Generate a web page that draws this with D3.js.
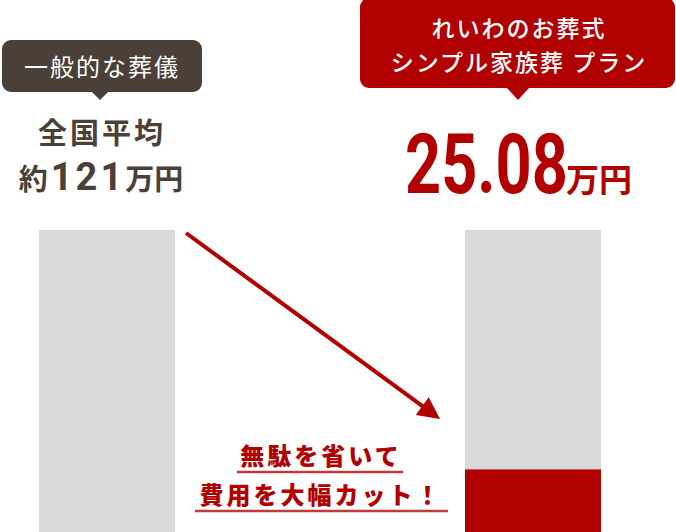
<!DOCTYPE html>
<html><head><meta charset="utf-8">
<script src="https://cdn.jsdelivr.net/npm/d3@7"></script>
<style>html,body{margin:0;padding:0;background:#fff;}svg{display:block;}</style>
</head><body>
<script>
const categories = ["一般的な葬儀", "れいわのお葬式 シンプル家族葬 プラン"];
const values = [121, 25.08];
const maxValue = 121;
const leftLabelLines = ["全国平均"];
const leftValueParts = ["約", "121", "万円"];
const rightLabelLines = ["れいわのお葬式", "シンプル家族葬 プラン"];
const rightValueParts = ["25.08", "万円"];
const calloutLines = ["無駄を省いて", "費用を大幅カット！"];

const W = 676, H = 532;
const RED = "#b10000", BROWN = "#4b4038", GRAY = "#d9d9d9";
const JP = "'Noto Sans CJK JP', 'Noto Sans', sans-serif";

const svg = d3.select("body").append("svg").attr("width", W).attr("height", H);

const x = d3.scaleBand().domain(categories).range([39, 601]).paddingInner(290/426).paddingOuter(0);
const y = d3.scaleLinear().domain([0, maxValue]).range([532, 230]);

svg.selectAll("rect.track").data(categories).join("rect")
  .attr("class", "track")
  .attr("x", d => x(d)).attr("width", x.bandwidth())
  .attr("y", y(maxValue)).attr("height", y(0) - y(maxValue))
  .attr("fill", GRAY);
svg.selectAll("rect.bar").data(categories).join("rect")
  .attr("class", "bar")
  .attr("x", d => x(d)).attr("width", x.bandwidth())
  .attr("y", (d,i) => y(values[i])).attr("height", (d,i) => y(0) - y(values[i]))
  .attr("fill", (d,i) => i === 0 ? GRAY : RED);

function bubble(x0, y0, x1, y1, r, tipX, tipY, hw) {
  const p = d3.path();
  p.moveTo(x0 + r, y0);
  p.lineTo(x1 - r, y0); p.arcTo(x1, y0, x1, y0 + r, r);
  p.lineTo(x1, y1 - r); p.arcTo(x1, y1, x1 - r, y1, r);
  p.lineTo(tipX + hw, y1); p.lineTo(tipX, tipY); p.lineTo(tipX - hw, y1);
  p.lineTo(x0 + r, y1); p.arcTo(x0, y1, x0, y1 - r, r);
  p.lineTo(x0, y0 + r); p.arcTo(x0, y0, x0 + r, y0, r);
  p.closePath();
  return p.toString();
}
svg.append("path").attr("d", bubble(2, 40, 202, 92, 9, 100, 100, 8)).attr("fill", BROWN);
svg.append("text").attr("x", 102).attr("y", 76).attr("text-anchor", "middle")
  .attr("font-family", JP).attr("font-size", 24).attr("font-weight", 400).attr("fill", "#fff")
  .attr("letter-spacing", 2)
  .text(categories[0]);

svg.append("text").attr("x", 102).attr("y", 144).attr("text-anchor", "middle")
  .attr("font-family", JP).attr("font-size", 29).attr("font-weight", 700).attr("fill", BROWN)
  .attr("letter-spacing", 3)
  .text(leftLabelLines[0]);
const lv = svg.append("text").attr("x", 101).attr("y", 190).attr("text-anchor", "middle")
  .attr("font-family", "Roboto, sans-serif").attr("font-weight", 700).attr("fill", BROWN);
lv.append("tspan").attr("font-size", 29).attr("font-family", JP).text(leftValueParts[0]);
lv.append("tspan").attr("font-size", 38).attr("dx", 3).attr("letter-spacing", 3).text(leftValueParts[1]);
lv.append("tspan").attr("font-size", 29).attr("font-family", JP).text(leftValueParts[2]);

svg.append("path").attr("d", bubble(360, -2, 675, 88, 9, 518, 100, 11)).attr("fill", RED);
rightLabelLines.forEach((t, i) => {
  svg.append("text").attr("x", 519).attr("y", 37 + i * 34).attr("text-anchor", "middle")
    .attr("font-family", JP).attr("font-size", 23).attr("font-weight", 500).attr("fill", "#fff")
    .attr("letter-spacing", 2)
    .text(t);
});
svg.append("text").attr("transform", "translate(405,193) scale(0.75,1)")
  .attr("font-family", "Roboto, 'DejaVu Sans Condensed', sans-serif").attr("font-size", 84).attr("font-weight", 700)
  .attr("fill", RED)
  .text(rightValueParts[0]);
svg.append("text").attr("x", 566).attr("y", 192)
  .attr("font-family", JP).attr("font-size", 33).attr("font-weight", 700).attr("fill", RED)
  .text(rightValueParts[1]);

const a0 = [186, 233], a1 = [440, 419];
const dx = a1[0] - a0[0], dy = a1[1] - a0[1], L = Math.hypot(dx, dy);
const ux = dx / L, uy = dy / L, hl = 22, hw = 11;
const bx = a1[0] - ux * hl, by = a1[1] - uy * hl;
svg.append("line").attr("x1", a0[0]).attr("y1", a0[1]).attr("x2", bx + ux * 2).attr("y2", by + uy * 2)
  .attr("stroke", RED).attr("stroke-width", 4);
svg.append("path").attr("d", d3.line()([a1, [bx - uy * hw, by + ux * hw], [bx + uy * hw, by - ux * hw]]))
  .attr("fill", RED);

const ulines = [[237, 403, 472], [195, 448, 511]];
calloutLines.forEach((t, i) => {
  svg.append("text").attr("x", 321).attr("y", 465 + i * 39).attr("text-anchor", "middle")
    .attr("font-family", JP).attr("font-size", 24).attr("font-weight", 900).attr("fill", RED)
    .attr("letter-spacing", 3)
    .text(t);
  svg.append("line").attr("x1", ulines[i][0]).attr("x2", ulines[i][1]).attr("y1", ulines[i][2]).attr("y2", ulines[i][2])
    .attr("stroke", "#c23a3a").attr("stroke-width", 2.5);
});
</script>
</body></html>
